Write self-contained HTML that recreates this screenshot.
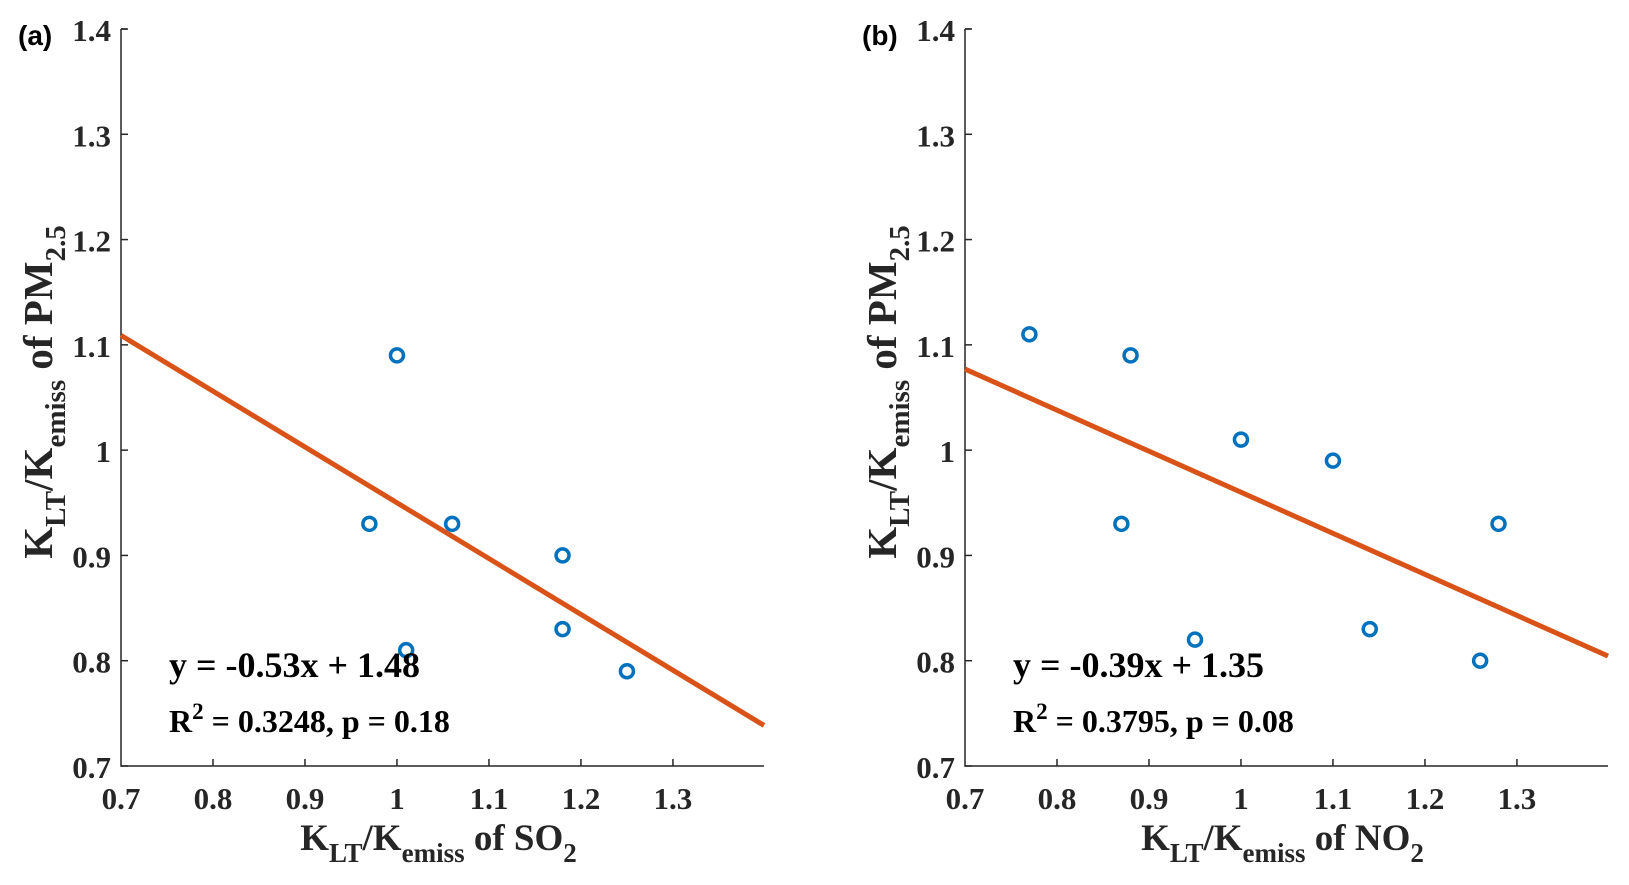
<!DOCTYPE html>
<html><head><meta charset="utf-8"><style>
html,body{margin:0;padding:0;background:#fff;}
svg{display:block;font-family:"Liberation Serif",serif;font-weight:bold;}
</style></head><body>
<svg id="chart" width="1629" height="885" viewBox="0 0 1629 885" xmlns="http://www.w3.org/2000/svg"></svg>
<script>
const xTicks = [0.7, 0.8, 0.9, 1, 1.1, 1.2, 1.3];
const yTicks = [0.7, 0.8, 0.9, 1, 1.1, 1.2, 1.3, 1.4];
const so2X = [0.97, 1.00, 1.01, 1.06, 1.18, 1.18, 1.25];
const so2Y = [0.93, 1.09, 0.81, 0.93, 0.90, 0.83, 0.79];
const no2X = [0.77, 0.87, 0.88, 0.95, 1.00, 1.10, 1.14, 1.26, 1.28];
const no2Y = [1.11, 0.93, 1.09, 0.82, 1.01, 0.99, 0.83, 0.80, 0.93];
const fitA = [-0.53, 1.48];
const fitB = [-0.39, 1.35];
const svg = document.getElementById('chart');
const NS = 'http://www.w3.org/2000/svg';
function mk(tag, attrs, parent){const e=document.createElementNS(NS,tag);for(const k in attrs)e.setAttribute(k,attrs[k]);parent.appendChild(e);return e;}
function panel(off, label, xs, ys, fit, gas, r2, p){
  const g = mk('g',{},svg);
  
  
  const L=121+off, R=764+off, T=29, B=766;
  const sx=v=>L+(v-0.7)/0.7*(R-L)*0.7/0.699;
  const sy=v=>B-(v-0.7)/0.7*(B-T);
  const ax = mk('path',{d:`M${L} ${T}H${L+6}M${L} ${T}V${B}H${R}`,stroke:'#262626','stroke-width':1.5,fill:'none'},g);
  
  
  xTicks.forEach(v=>{
    if(v>0.7) mk('line',{x1:sx(v),x2:sx(v),y1:B,y2:B-7,stroke:'#262626','stroke-width':1.5},g);
    const t=mk('text',{x:sx(v),y:B+43,'text-anchor':'middle','font-size':31,fill:'#262626'},g);
    t.textContent=String(v);
    
    
  });
  yTicks.forEach(v=>{
    mk('line',{x1:L,x2:L+7,y1:sy(v),y2:sy(v),stroke:'#262626','stroke-width':1.5},g);
    const t=mk('text',{x:L-10,y:sy(v)+12,'text-anchor':'end','font-size':31,fill:'#262626'},g);
    t.textContent=String(v);
    
    
  });
  const x0=0.7,x1=1.399;
  const ln=mk('line',{x1:sx(x0),y1:sy(fit[0]*x0+fit[1]),x2:sx(x1),y2:sy(fit[0]*x1+fit[1]),stroke:'#D95319','stroke-width':5},g);
  
  
  xs.forEach((v,i)=>{
    const c=mk('circle',{cx:sx(v),cy:sy(ys[i]),r:6.5,fill:'none',stroke:'#0072BD','stroke-width':3.5},g);
    
    
  });
  const lab=mk('text',{x:off+18,y:45,'font-size':28,fill:'#000','font-family':'Liberation Sans, sans-serif'},g);
  lab.textContent='('+label+')';
  
  
  const eq=mk('text',{x:L+48,y:677,'font-size':36,fill:'#000'},g);
  eq.textContent=`y = ${fit[0]}x + ${fit[1]}`;
  
  
  const st=mk('text',{x:L+48,y:732,'font-size':32,fill:'#000'},g);
  st.innerHTML=`R<tspan dy="-13" font-size="23">2</tspan><tspan dy="13"> = ${r2}, p = ${p}</tspan>`;
  
  
  const xl=mk('text',{x:(L+R)/2-4,y:850,'text-anchor':'middle','font-size':37,fill:'#262626'},g);
  xl.innerHTML=`K<tspan dy="12" font-size="27">LT</tspan><tspan dy="-12">/K</tspan><tspan dy="12" font-size="27">emiss</tspan><tspan dy="-12"> of ${gas}</tspan><tspan dy="12" font-size="27">2</tspan>`;
  
  
  const yl=mk('text',{x:0,y:0,'text-anchor':'middle','font-size':41,fill:'#262626',transform:`translate(${off+52},${392}) rotate(-90)`},g);
  yl.innerHTML=`K<tspan dy="13" font-size="29">LT</tspan><tspan dy="-13">/K</tspan><tspan dy="13" font-size="29">emiss</tspan><tspan dy="-13"> of PM</tspan><tspan dy="13" font-size="29">2.5</tspan>`;
  
  
}
panel(0,'a',so2X,so2Y,fitA,'SO','0.3248','0.18');
panel(844,'b',no2X,no2Y,fitB,'NO','0.3795','0.08');
</script>
</body></html>
